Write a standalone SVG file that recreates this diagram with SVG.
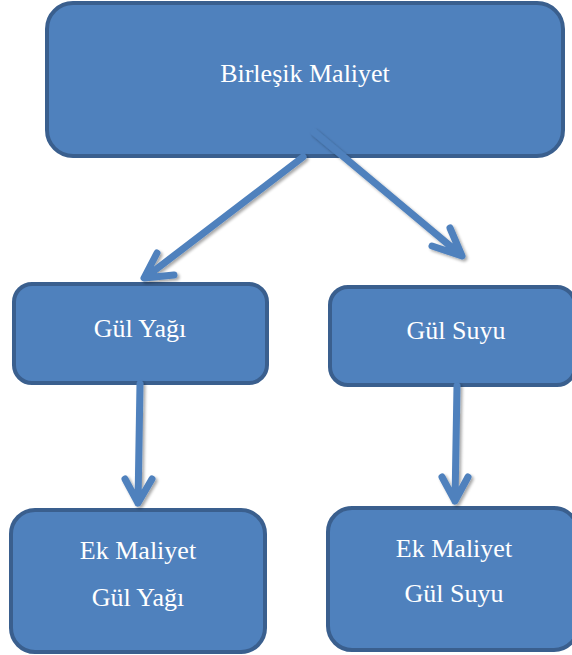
<svg xmlns="http://www.w3.org/2000/svg" width="572" height="655" viewBox="0 0 572 655">
<defs>
<filter id="sh" x="-20%" y="-20%" width="140%" height="140%">
<feGaussianBlur in="SourceAlpha" stdDeviation="1.5"/>
<feOffset dx="1.5" dy="2" result="o"/>
<feComponentTransfer><feFuncA type="linear" slope="0.35"/></feComponentTransfer>
<feMerge><feMergeNode/><feMergeNode in="SourceGraphic"/></feMerge>
</filter>
</defs>
<style>
.box{fill:#4F81BD;stroke:#3A5F8E;stroke-width:4}
.t{fill:#FFFFFF;font-family:'Liberation Serif','Times New Roman',Times,serif;font-size:26px;text-anchor:middle}
.c{fill:none;stroke:#4F81BD;stroke-width:7;stroke-linecap:round;stroke-linejoin:round}
</style>
<rect width="572" height="655" fill="#FFFFFF"/>
<g id="birlesik">
<rect class="box" x="47" y="3" width="516" height="153" rx="26"/>
<text class="t" x="305" y="82">Birleşik Maliyet</text>
</g>
<g id="gul-yagi">
<rect class="box" x="14" y="284" width="253" height="99" rx="18"/>
<text class="t" x="140" y="337">Gül Yağı</text>
</g>
<g id="gul-suyu">
<rect class="box" x="330" y="287" width="245" height="98" rx="18"/>
<text class="t" x="456" y="339">Gül Suyu</text>
</g>
<g id="ek-gul-yagi">
<rect class="box" x="11" y="510" width="254" height="142" rx="24"/>
<text class="t" x="138" y="559">Ek Maliyet</text>
<text class="t" x="138" y="606">Gül Yağı</text>
</g>
<g id="ek-gul-suyu">
<rect class="box" x="328" y="508" width="250" height="142" rx="24"/>
<text class="t" x="454" y="557">Ek Maliyet</text>
<text class="t" x="454" y="602">Gül Suyu</text>
</g>
<g id="connectors" filter="url(#sh)">
<path class="c" d="M303,157 L146,277 M157,253 L144,278 L174,275"/>
<path class="c" d="M314,132 L461,255 M450,228 L462,256 L432,246"/>
<path class="c" d="M140,384 L138,503 M125,479 L138,503 L152,479"/>
<path class="c" d="M457,386 L455,501 M442,477 L455,501 L468,477"/>
</g>
</svg>
